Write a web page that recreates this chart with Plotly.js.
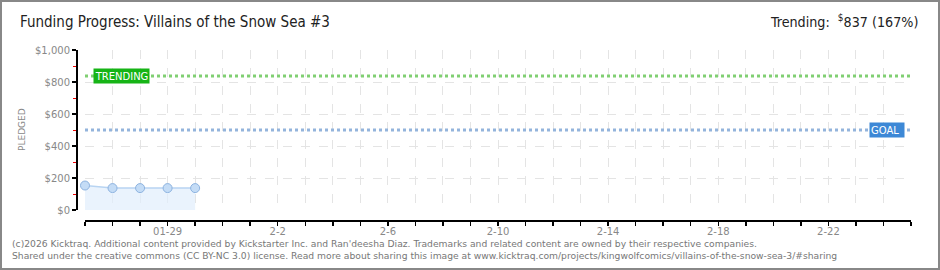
<!DOCTYPE html>
<html><head><meta charset="utf-8">
<script src="https://cdn.plot.ly/plotly-3.0.1.min.js"></script>
<style>html,body{margin:0;padding:0;background:#fff}#c{width:940px;height:270px}</style>
</head><body><div id="c"></div>
<script>
// ---- data ----
const dates = ['2026-01-26','2026-01-27','2026-01-28','2026-01-29','2026-01-30'];
const pledged = [153, 137, 137, 137, 137];
const goal = 500;
const trending = 837;
const trendingPct = 167;
const xRange = ['2026-01-26','2026-02-25'];
const xTickVals = ['2026-01-29','2026-02-02','2026-02-06','2026-02-10','2026-02-14','2026-02-18','2026-02-22'];
const xTickText = ['01-29','2-2','2-6','2-10','2-14','2-18','2-22'];
const yTickVals = [0,200,400,600,800,1000];
const yTickText = ['$0','$200','$400','$600','$800','$1,000'];
const title = 'Funding Progress: Villains of the Snow Sea #3';
const footer1 = "(c)2026 Kicktraq. Additional content provided by Kickstarter Inc. and Ran'deesha Diaz. Trademarks and related content are owned by their respective companies.";
const footer2 = "Shared under the creative commons (CC BY-NC 3.0) license. Read more about sharing this image at www.kicktraq.com/projects/kingwolfcomics/villains-of-the-snow-sea-3/#sharing";

// ---- layout helpers ----
const L = 76, R = 29, T = 50, B = 50, W = 940, H = 270;
const PW = W - L - R, PH = H - T - B;
const px = v => (v - L) / PW;
const py = v => (H - B - v) / PH;

const pixFont = 'DejaVu Sans, sans-serif';
const headFont = 'DejaVu Sans Condensed, Liberation Sans Narrow, sans-serif';

const traces = [{
  x: dates, y: pledged, type: 'scatter', mode: 'lines+markers',
  fill: 'tozeroy', fillcolor: 'rgba(225,238,252,0.7)',
  line: {color: '#b8d4f2', width: 1.5},
  marker: {size: 9, color: '#c4dcf6', line: {color: '#8db3e0', width: 1}},
  cliponaxis: false, hoverinfo: 'skip'
}];

const gridCol = '#e4e4e4';
const layout = {
  width: W, height: H,
  margin: {l: L, r: R, t: T, b: B},
  paper_bgcolor: '#fff', plot_bgcolor: '#fff',
  showlegend: false,
  title: {text: title, x: 20/W, xanchor: 'left', xref: 'container', y: 1 - 22/H, yanchor: 'middle', yref: 'container',
    font: {family: headFont, size: 15, color: '#222'}},
  xaxis: {
    type: 'date', range: xRange, domain: [px(85), 1], anchor: 'free', position: 0,
    showline: true, linecolor: '#000', linewidth: 1.5,
    ticks: 'outside', ticklen: 4, tickcolor: '#000', tickwidth: 1.5,
    tickmode: 'array', tickvals: xTickVals, ticktext: xTickText,
    tickfont: {family: pixFont, size: 10, color: '#888'}, ticklabelstandoff: -3,
    showgrid: true, gridcolor: gridCol, griddash: 'dash', gridwidth: 1,
    zeroline: false, fixedrange: true,
    minor: {dtick: 86400000, tick0: '2026-01-26', ticks: 'outside', ticklen: 4, tickcolor: '#000', tickwidth: 1.5,
      showgrid: true, gridcolor: gridCol, griddash: 'dash', gridwidth: 1}
  },
  yaxis: {
    range: [0, 1000], domain: [py(210), 1], anchor: 'free', position: 0,
    showline: true, linecolor: '#000', linewidth: 1.5,
    ticks: 'outside', ticklen: 4, tickcolor: '#000', tickwidth: 1.5,
    tickmode: 'array', tickvals: yTickVals, ticktext: yTickText,
    tickfont: {family: pixFont, size: 10, color: '#888'},
    showgrid: true, gridcolor: gridCol, griddash: 'dash', gridwidth: 1,
    zeroline: false, fixedrange: true,
    minor: {dtick: 100, ticks: 'outside', ticklen: 3, tickcolor: '#e00', tickwidth: 1, showgrid: false}
  },
  shapes: [
    {type: 'line', xref: 'x', yref: 'y', x0: xRange[0], x1: xRange[1], y0: goal, y1: goal,
      line: {color: '#93b4dc', width: 3, dash: 'dot'}},
    {type: 'line', xref: 'x', yref: 'y', x0: xRange[0], x1: xRange[1], y0: trending, y1: trending,
      line: {color: '#80cf72', width: 3, dash: 'dot'}},
    {type: 'rect', xref: 'paper', yref: 'paper', x0: px(1), x1: px(939), y0: py(1), y1: py(269),
      line: {color: '#888', width: 2}, fillcolor: 'rgba(0,0,0,0)'}
  ],
  annotations: [
    {xref: 'paper', yref: 'y', x: px(93), y: trending, xanchor: 'left', yanchor: 'middle',
      text: 'TRENDING', showarrow: false, bgcolor: '#16b416', borderpad: 1, width: 53, height: 12,
      font: {family: pixFont, size: 10, color: '#fff'}},
    {xref: 'paper', yref: 'y', x: px(905), y: goal, xanchor: 'right', yanchor: 'middle',
      text: 'GOAL', showarrow: false, bgcolor: '#3d88d6', borderpad: 1, width: 32, height: 12, align: 'left',
      font: {family: pixFont, size: 10, color: '#fff'}},
    {xref: 'paper', yref: 'paper', x: px(920), y: py(21), xanchor: 'right', yanchor: 'middle',
      text: 'Trending:  <sup>$</sup>' + trending + ' (' + trendingPct + '%)', showarrow: false,
      font: {family: headFont, size: 14.2, color: '#222'}},
    {xref: 'paper', yref: 'paper', x: px(22), y: py(130), xanchor: 'center', yanchor: 'middle',
      text: 'PLEDGED', textangle: -90, showarrow: false,
      font: {family: pixFont, size: 9, color: '#888'}},
    {xref: 'paper', yref: 'paper', x: px(10), y: py(243), xanchor: 'left', yanchor: 'middle',
      text: footer1, showarrow: false, font: {family: pixFont, size: 9.2, color: '#777'}},
    {xref: 'paper', yref: 'paper', x: px(10), y: py(255), xanchor: 'left', yanchor: 'middle',
      text: footer2, showarrow: false, font: {family: pixFont, size: 9.2, color: '#777'}}
  ]
};

Plotly.newPlot('c', traces, layout, {displayModeBar: false, staticPlot: true});
</script></body></html>
